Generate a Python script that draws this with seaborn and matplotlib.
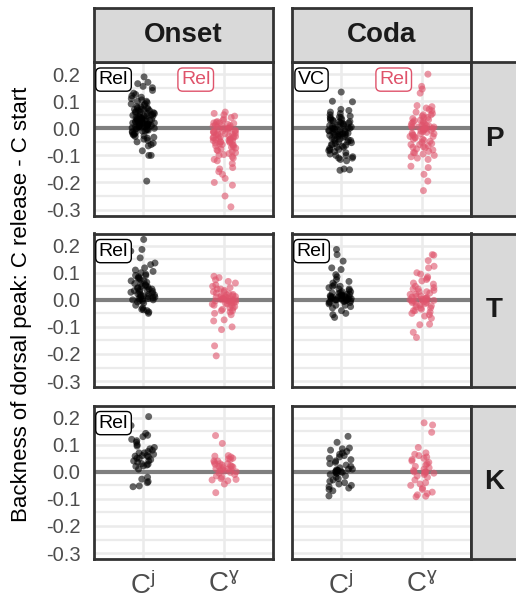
import numpy as np
import pandas as pd
import matplotlib
matplotlib.use("Agg")
import matplotlib.pyplot as plt
from matplotlib.ticker import MultipleLocator
import seaborn as sns

sns.set_theme(style="white")
plt.rcParams['font.family'] = ['Liberation Sans', 'DejaVu Sans']
plt.rcParams['mathtext.fontset'] = 'custom'
plt.rcParams['mathtext.rm'] = 'Liberation Sans'
plt.rcParams['mathtext.it'] = 'Liberation Sans'

# ---------------- data ----------------
rows = ["P", "T", "K"]
cols = ["Onset", "Coda"]
cats = ["Cj", "Cg"]
cat_labels = [r"$\mathregular{C^{j}}$", r"$\mathregular{C^{ɣ}}$"]

P_onset_Cj = [0.19, 0.17, 0.165, 0.155, 0.15, 0.14, 0.13, 0.125, 0.12, 0.115, 0.11, 0.105, 0.10, 0.10,
              0.095, 0.09, 0.09, 0.085, 0.08, 0.08, 0.075, 0.075, 0.07, 0.07, 0.068, 0.065, 0.065, 0.06,
              0.06, 0.058, 0.055, 0.055, 0.052, 0.05, 0.05, 0.048, 0.045, 0.045, 0.043, 0.04, 0.04, 0.038,
              0.036, 0.035, 0.034, 0.032, 0.03, 0.03, 0.028, 0.026, 0.025, 0.024, 0.022, 0.02, 0.02, 0.018,
              0.016, 0.015, 0.014, 0.012, 0.01, 0.01, 0.008, 0.006, 0.005, 0.004, 0.002, 0.0, 0.0, -0.002,
              -0.004, -0.005, -0.007, -0.01, -0.01, -0.012, -0.015, -0.017, -0.02, -0.022, -0.025, -0.028,
              -0.03, -0.033, -0.036, -0.04, -0.045, -0.05, -0.055, -0.06, -0.065, -0.083, -0.1, -0.1, -0.195,
              0.045, 0.035, 0.025, 0.015, 0.005, 0.06, 0.07, 0.03, 0.02, 0.01]
P_onset_Cg = [0.06, 0.055, 0.05, 0.045, 0.04, 0.035, 0.03, 0.025, 0.022, 0.02, 0.018, 0.015, 0.012, 0.01,
              0.008, 0.005, 0.003, 0.0, 0.0, -0.002, -0.005, -0.007, -0.01, -0.012, -0.014, -0.016, -0.018,
              -0.02, -0.022, -0.024, -0.026, -0.028, -0.03, -0.032, -0.034, -0.036, -0.038, -0.04, -0.042,
              -0.044, -0.046, -0.048, -0.05, -0.052, -0.055, -0.058, -0.06, -0.062, -0.065, -0.068, -0.07,
              -0.073, -0.076, -0.08, -0.083, -0.086, -0.09, -0.093, -0.097, -0.1, -0.105, -0.11, -0.115,
              -0.12, -0.13, -0.145, -0.15, -0.16, -0.17, -0.185, -0.2, -0.21, -0.25, -0.29,
              -0.02, -0.03, -0.04, -0.05, -0.01, 0.0, -0.06, -0.035, -0.045, 0.01, 0.02]
P_coda_Cj = [0.134, 0.1, 0.098, 0.07, 0.066, 0.06, 0.055, 0.05, 0.045, 0.042, 0.04, 0.036, 0.033, 0.03,
             0.027, 0.024, 0.02, 0.018, 0.015, 0.012, 0.01, 0.008, 0.005, 0.003, 0.0, -0.002, -0.004,
             -0.006, -0.008, -0.01, -0.012, -0.014, -0.016, -0.018, -0.02, -0.022, -0.024, -0.026, -0.028,
             -0.03, -0.033, -0.036, -0.04, -0.043, -0.046, -0.05, -0.053, -0.056, -0.06, -0.063, -0.066,
             -0.07, -0.074, -0.078, -0.082, -0.086, -0.09, -0.095, -0.1, -0.105, -0.11, -0.115, -0.12,
             -0.15, -0.155, -0.153, 0.03, 0.02, 0.01, 0.0, -0.01, -0.02, -0.03, -0.04, -0.05, -0.06,
             0.04, 0.025, 0.005, -0.015, -0.025, -0.045, -0.07, -0.08, -0.1, -0.11]
P_coda_Cg = [0.2, 0.155, 0.145, 0.13, 0.084, 0.08, 0.075, 0.07, 0.065, 0.06, 0.055, 0.05, 0.045, 0.04,
             0.036, 0.032, 0.028, 0.025, 0.022, 0.018, 0.015, 0.012, 0.01, 0.008, 0.005, 0.003, 0.0, 0.0,
             -0.002, -0.004, -0.006, -0.008, -0.01, -0.012, -0.015, -0.018, -0.02, -0.023, -0.026, -0.03,
             -0.033, -0.036, -0.04, -0.044, -0.048, -0.052, -0.056, -0.06, -0.064, -0.068, -0.072, -0.076,
             -0.08, -0.085, -0.09, -0.095, -0.1, -0.105, -0.11, -0.115, -0.14, -0.145, -0.17, -0.195, -0.23,
             0.0, 0.005, -0.005, 0.01, 0.02, 0.03, -0.02, -0.03, -0.04, -0.06, -0.07, -0.09, 0.04, 0.05]
T_onset_Cj = [0.223, 0.186, 0.18, 0.155, 0.136, 0.13, 0.118, 0.11, 0.105, 0.1, 0.095, 0.09, 0.085, 0.08,
              0.075, 0.07, 0.065, 0.06, 0.056, 0.052, 0.048, 0.045, 0.042, 0.04, 0.037, 0.034, 0.031,
              0.028, 0.025, 0.022, 0.02, 0.018, 0.015, 0.012, 0.01, 0.008, 0.005, 0.003, 0.0, -0.002,
              -0.005, -0.008, -0.012, -0.02, -0.03, -0.037, -0.04, -0.045, -0.05,
              0.06, 0.05, 0.04, 0.03, 0.02, 0.01, 0.0, 0.07, 0.08, 0.09, 0.035, 0.015, 0.005, -0.035]
T_onset_Cg = [0.087, 0.082, 0.074, 0.068, 0.062, 0.055, 0.05, 0.045, 0.04, 0.035, 0.03, 0.025, 0.022,
              0.018, 0.015, 0.012, 0.01, 0.008, 0.005, 0.003, 0.0, 0.0, -0.002, -0.004, -0.006, -0.008,
              -0.01, -0.013, -0.016, -0.02, -0.025, -0.03, -0.035, -0.04, -0.045, -0.05, -0.055, -0.074,
              -0.078, -0.1, -0.11, -0.17, -0.207, 0.02, 0.01, 0.0, -0.01, -0.02, 0.005, -0.005, 0.03, -0.03,
              0.015, -0.015, 0.04, -0.04, 0.0, 0.01]
T_coda_Cj = [0.186, 0.167, 0.143, 0.118, 0.112, 0.093, 0.085, 0.075, 0.068, 0.062, 0.055, 0.05, 0.045,
             0.04, 0.035, 0.03, 0.027, 0.024, 0.02, 0.018, 0.016, 0.014, 0.012, 0.01, 0.008, 0.006, 0.004,
             0.002, 0.0, -0.002, -0.004, -0.006, -0.008, -0.01, -0.015, -0.02, -0.025, -0.03, -0.04, -0.05,
             -0.055, -0.065, 0.015, 0.01, 0.005, 0.0, 0.02, 0.01, 0.0, -0.005, 0.005, 0.025, 0.03, -0.01,
             0.015, 0.04, 0.05, -0.02, 0.0, 0.01]
T_coda_Cg = [0.167, 0.165, 0.145, 0.124, 0.118, 0.1, 0.095, 0.085, 0.08, 0.075, 0.07, 0.062, 0.058, 0.05,
             0.045, 0.04, 0.035, 0.03, 0.025, 0.02, 0.015, 0.012, 0.008, 0.005, 0.003, 0.0, -0.002, -0.005,
             -0.008, -0.01, -0.014, -0.018, -0.022, -0.026, -0.03, -0.035, -0.04, -0.045, -0.05, -0.055,
             -0.06, -0.068, -0.09, -0.092, -0.12, -0.139, 0.0, 0.005, 0.01, -0.005, 0.02, -0.02, 0.03,
             -0.03, 0.0, -0.01, 0.04, -0.04]
K_onset_Cj = [0.204, 0.171, 0.142, 0.135, 0.13, 0.12, 0.115, 0.109, 0.1, 0.095, 0.09, 0.085, 0.08, 0.075,
              0.07, 0.065, 0.06, 0.058, 0.055, 0.05, 0.045, 0.04, 0.035, 0.03, 0.028, 0.025, 0.022, 0.02,
              0.01, -0.02, -0.027, -0.036, -0.04, -0.052, -0.055, 0.06, 0.05, 0.07, 0.04]
K_onset_Cg = [0.134, 0.105, 0.06, 0.058, 0.055, 0.05, 0.048, 0.045, 0.04, 0.035, 0.03, 0.028, 0.025,
              0.022, 0.02, 0.018, 0.015, 0.012, 0.01, 0.008, 0.005, 0.003, 0.0, -0.002, -0.005, -0.01,
              -0.015, -0.02, -0.025, -0.028, -0.03, -0.033, -0.045, -0.077, 0.03, 0.02, 0.01, 0.04]
K_coda_Cj = [0.131, 0.109, 0.088, 0.085, 0.08, 0.075, 0.07, 0.065, 0.06, 0.055, 0.05, 0.045, 0.04, 0.035,
             0.03, 0.025, 0.02, 0.015, 0.01, 0.008, 0.005, 0.002, 0.0, -0.002, -0.005, -0.01, -0.015, -0.02,
             -0.025, -0.03, -0.035, -0.04, -0.045, -0.05, -0.055, -0.06, -0.065, -0.07, -0.089, 0.0, 0.005,
             -0.005, 0.01]
K_coda_Cg = [0.181, 0.173, 0.146, 0.09, 0.07, 0.065, 0.06, 0.055, 0.05, 0.045, 0.04, 0.035, 0.03, 0.025,
             0.02, 0.015, 0.01, 0.005, 0.0, 0.0, -0.005, -0.01, -0.015, -0.02, -0.03, -0.04, -0.045, -0.05,
             -0.06, -0.065, -0.075, -0.08, -0.085, -0.09, -0.092, 0.0, -0.005]

series = {
    ("P", "Onset"): (P_onset_Cj, P_onset_Cg),
    ("P", "Coda"): (P_coda_Cj, P_coda_Cg),
    ("T", "Onset"): (T_onset_Cj, T_onset_Cg),
    ("T", "Coda"): (T_coda_Cj, T_coda_Cg),
    ("K", "Onset"): (K_onset_Cj, K_onset_Cg),
    ("K", "Coda"): (K_coda_Cj, K_coda_Cg),
}

# labels: (row, col) -> list of (text, category index for colour)
labels = {
    ("P", "Onset"): [("Rel", 0), ("Rel", 1)],
    ("P", "Coda"): [("VC", 0), ("Rel", 1)],
    ("T", "Onset"): [("Rel", 0)],
    ("T", "Coda"): [("Rel", 0)],
    ("K", "Onset"): [("Rel", 0)],
}

records = []
for (r, c), (vj, vg) in series.items():
    for v in vj:
        records.append((r, c, "Cj", v))
    for v in vg:
        records.append((r, c, "Cg", v))
df = pd.DataFrame(records, columns=["place", "position", "cat", "value"])

palette = {"Cj": "#000000", "Cg": "#DF536B"}
text_gray = "#4D4D4D"
dark = "#333333"
grid_c = "#EBEBEB"

# ---------------- layout ----------------
W, H = 516, 601
fig = plt.figure(figsize=(W / 100, H / 100), dpi=100)

col_x = [(94, 273), (292, 471)]
row_y = [(62, 215.5), (233.5, 387), (405.5, 559)]

def fbox(x0, x1, y0, y1):
    return [x0 / W, 1 - y1 / H, (x1 - x0) / W, (y1 - y0) / H]

np.random.seed(3)
ylim = (-0.322, 0.245)
label_x = {0: -0.36, 1: 0.65}

for ri, r in enumerate(rows):
    for ci, c in enumerate(cols):
        x0, x1 = col_x[ci]
        y0, y1 = row_y[ri]
        ax = fig.add_axes(fbox(x0, x1, y0, y1))
        ax.set_facecolor("white")
        sub = df[(df.place == r) & (df.position == c)]
        ax.axhline(0, color="#7F7F7F", lw=3.0, zorder=1)
        sns.stripplot(data=sub, x="cat", y="value", hue="cat", order=cats, hue_order=cats,
                      palette=palette, jitter=0.15, size=5.0, alpha=0.6, linewidth=0,
                      legend=False, ax=ax, zorder=3)
        ax.set_xlim(-0.6, 1.6)
        ax.set_ylim(*ylim)
        ax.yaxis.set_major_locator(MultipleLocator(0.1))
        ax.yaxis.set_minor_locator(MultipleLocator(0.05))
        ax.grid(True, which="major", axis="both", color=grid_c, lw=1.8, zorder=0)
        ax.grid(True, which="minor", axis="y", color=grid_c, lw=1.6, zorder=0)
        ax.set_axisbelow(True)
        for s in ax.spines.values():
            s.set_color(dark)
            s.set_linewidth(2.0)
            s.set_zorder(5)
        ax.set_xlabel("")
        ax.set_ylabel("")
        ax.tick_params(axis="both", which="major", length=5.8, width=2.0, color=dark,
                       labelcolor=text_gray)
        ax.tick_params(axis="y", which="minor", length=0)
        ax.tick_params(axis="y", labelsize=14.5, pad=4)
        ax.tick_params(axis="x", labelsize=20, pad=3)
        ax.set_xticks([0, 1])
        if ri == len(rows) - 1:
            ax.set_xticklabels(cat_labels)
        else:
            ax.tick_params(axis="x", length=0, labelbottom=False)
        if ci == 0:
            ax.set_yticks([-0.3, -0.2, -0.1, 0.0, 0.1, 0.2])
            ax.set_yticklabels(["-0.3", "-0.2", "-0.1", "0.0", "0.1", "0.2"])
        else:
            ax.tick_params(axis="y", length=0, labelleft=False)
        for txt, k in labels.get((r, c), []):
            colr = "black" if k == 0 else palette["Cg"]
            ax.text(label_x[k], 0.18, txt, ha="center", va="center", fontsize=14,
                    color=colr, zorder=6,
                    bbox=dict(boxstyle="round,pad=0.16,rounding_size=0.25", fc="white",
                              ec=colr, lw=1.0))

# top strips
for ci, c in enumerate(cols):
    x0, x1 = col_x[ci]
    sax = fig.add_axes(fbox(x0, x1, 8, 62))
    sax.set_facecolor("#D9D9D9")
    sax.set_xticks([]); sax.set_yticks([])
    for s in sax.spines.values():
        s.set_color(dark); s.set_linewidth(2.0)
    sax.text(0.5, 0.5, c, ha="center", va="center", fontsize=20, fontweight="bold",
             color="#1A1A1A", transform=sax.transAxes)

# right strips
for ri, r in enumerate(rows):
    y0, y1 = row_y[ri]
    sax = fig.add_axes(fbox(471, 518, y0, y1))
    sax.set_facecolor("#D9D9D9")
    sax.set_xticks([]); sax.set_yticks([])
    for s in sax.spines.values():
        s.set_color(dark); s.set_linewidth(2.0)
    sax.text(0.5, 0.5, r, ha="center", va="center", fontsize=20, fontweight="bold",
             color="#1A1A1A", transform=sax.transAxes)

fig.text(22 / W, 1 - 304 / H, "Backness of dorsal peak: C release - C start", rotation=90,
         ha="center", va="center", fontsize=16, color="black")

fig.savefig("out.png", dpi=100, facecolor="white")
